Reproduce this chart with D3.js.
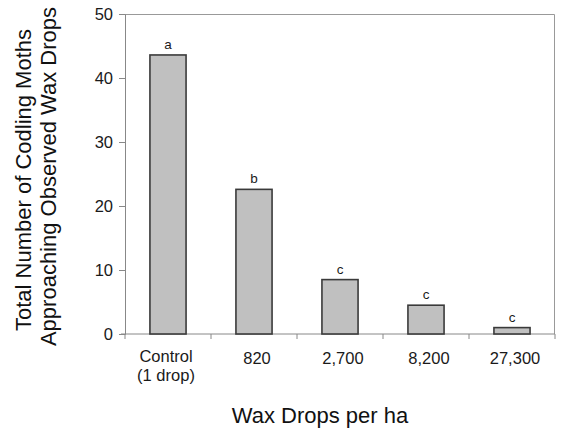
<!DOCTYPE html>
<html>
<head>
<meta charset="utf-8">
<script src="https://cdn.jsdelivr.net/npm/d3@7"></script>
<style>
  body { margin: 0; background: #fff; }
  svg { display: block; font-family: "Liberation Sans", Arial, Helvetica, sans-serif; }
</style>
</head>
<body>
<div id="chart"></div>
<script>
// data
const categories = ['Control', '820', '2,700', '8,200', '27,300'];
const categorySubLabels = ['(1 drop)', '', '', '', ''];
const mothCounts = [43.6, 22.6, 8.5, 4.5, 1.0];
const letters = ['a', 'b', 'c', 'c', 'c'];
const yTicks = [0, 10, 20, 30, 40, 50];

const width = 564;
const height = 433;
const margin = { top: 14, right: 9, bottom: 99, left: 125 };
const plotW = width - margin.left - margin.right;
const plotH = height - margin.top - margin.bottom;

const rows = categories.map((c, i) => ({
    name: c, sub: categorySubLabels[i], value: mothCounts[i], letter: letters[i]
}));

const xScale = d3.scaleBand()
    .domain(categories)
    .range([0, plotW])
    .padding(0);

const yScale = d3.scaleLinear()
    .domain([0, 50])
    .range([plotH, 0]);

const svg = d3.select('#chart').append('svg')
    .attr('width', width)
    .attr('height', height);

const chart = svg.append('g')
    .attr('transform', `translate(${margin.left}, ${margin.top})`);

// frame top + right
chart.append('path')
    .attr('d', `M0,0.5H${plotW - 0.5}V${plotH}`)
    .attr('fill', 'none')
    .attr('stroke', '#999')
    .attr('stroke-width', 1);

// y axis
const yAxis = chart.append('g').attr('class', 'y-axis')
    .call(d3.axisLeft(yScale).tickValues(yTicks).tickSize(6).tickPadding(6));
yAxis.select('.domain').attr('stroke', '#888');
yAxis.selectAll('.tick line').attr('stroke', '#888');
yAxis.selectAll('.tick text')
    .attr('font-size', 16.5)
    .attr('fill', '#1a1a1a')
    .attr('font-family', null);

// x axis line + boundary ticks
const xAxis = chart.append('g').attr('class', 'x-axis')
    .attr('transform', `translate(0, ${plotH})`);
xAxis.append('line')
    .attr('x1', -4).attr('x2', plotW)
    .attr('stroke', '#888');
const bounds = categories.map(c => xScale(c)).concat([xScale.range()[1]]);
xAxis.selectAll('.bound').data(bounds).enter().append('line')
    .attr('class', 'bound')
    .attr('x1', d => d).attr('x2', d => d)
    .attr('y1', 0).attr('y2', 5)
    .attr('stroke', '#888');

// bars
const barW = xScale.bandwidth() * 0.42;
chart.selectAll('rect.bar').data(rows).enter().append('rect')
    .attr('class', 'bar')
    .attr('x', d => xScale(d.name) + (xScale.bandwidth() - barW) / 2)
    .attr('y', d => yScale(d.value))
    .attr('width', barW)
    .attr('height', d => plotH - yScale(d.value))
    .attr('fill', '#c0c0c0')
    .attr('stroke', '#3a3a3a')
    .attr('stroke-width', 1.6);

// significance letters
chart.selectAll('text.letter').data(rows).enter().append('text')
    .attr('class', 'letter')
    .attr('x', d => xScale(d.name) + xScale.bandwidth() / 2)
    .attr('y', d => yScale(d.value) - 6)
    .attr('text-anchor', 'middle')
    .attr('font-size', 13.5)
    .attr('fill', '#1a1a1a')
    .text(d => d.letter);

// category labels
const catLabels = chart.selectAll('text.cat').data(rows).enter().append('text')
    .attr('class', 'cat')
    .attr('text-anchor', 'middle')
    .attr('font-size', 16.5)
    .attr('fill', '#1a1a1a');
catLabels.append('tspan')
    .attr('x', d => xScale(d.name) + xScale.bandwidth() / 2 + (d.sub ? -2 : 3))
    .attr('y', d => plotH + (d.sub ? 28 : 30))
    .text(d => d.name);
catLabels.filter(d => d.sub).append('tspan')
    .attr('x', d => xScale(d.name) + xScale.bandwidth() / 2 - 2)
    .attr('y', plotH + 47)
    .text(d => d.sub);

// axis titles
svg.append('text')
    .attr('x', 320)
    .attr('y', 423)
    .attr('text-anchor', 'middle')
    .attr('font-size', 22)
    .attr('fill', '#111')
    .text('Wax Drops per ha');

svg.append('text')
    .attr('transform', 'translate(30.5, 180) rotate(-90)')
    .attr('text-anchor', 'middle')
    .attr('font-size', 22)
    .attr('fill', '#111')
    .text('Total Number of Codling Moths');

svg.append('text')
    .attr('transform', 'translate(56, 176.5) rotate(-90)')
    .attr('text-anchor', 'middle')
    .attr('font-size', 22)
    .attr('fill', '#111')
    .text('Approaching Observed Wax Drops');
</script>
</body>
</html>
